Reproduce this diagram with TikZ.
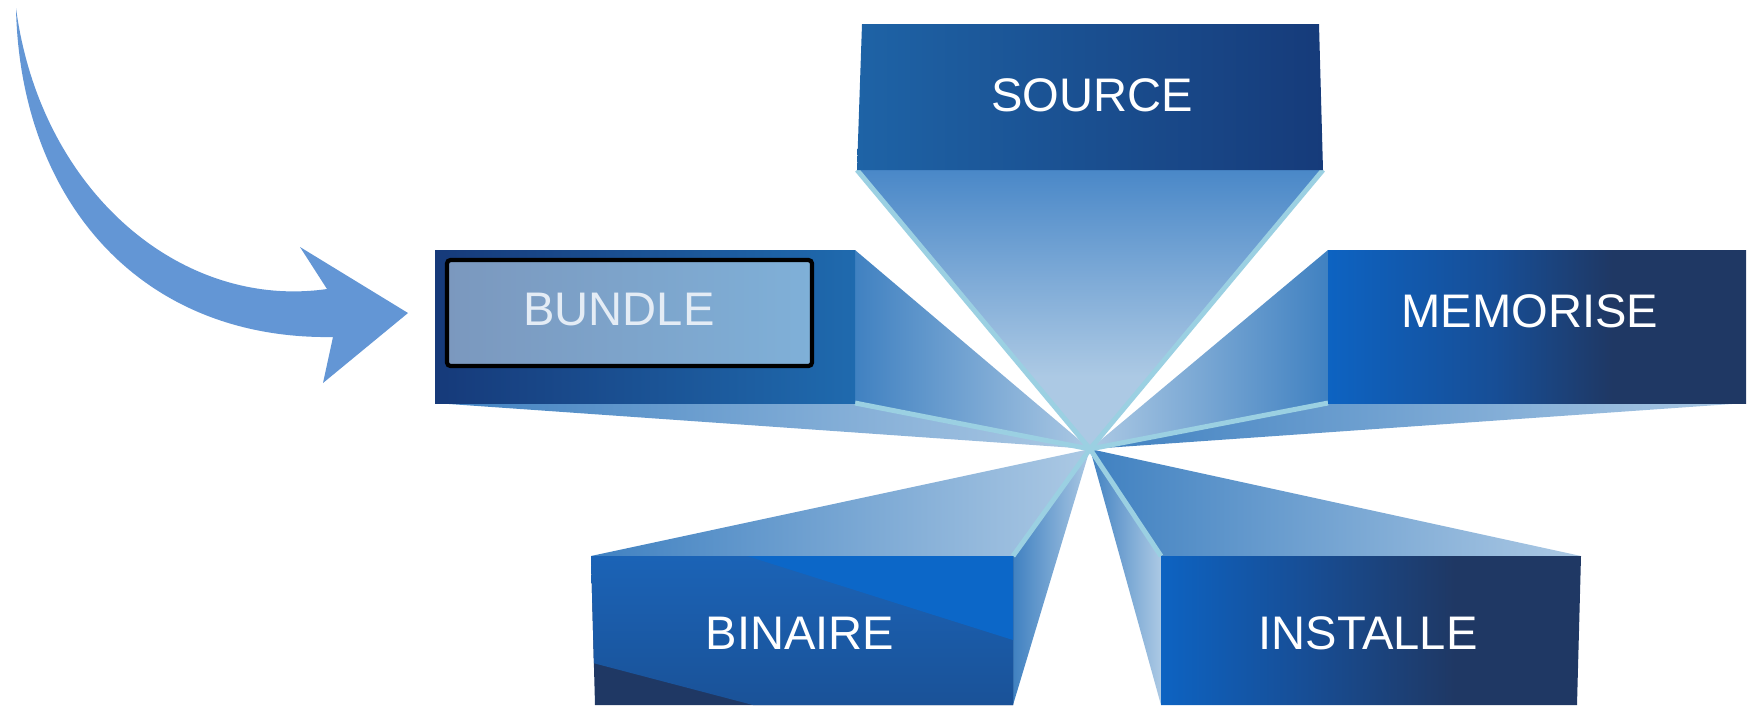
\documentclass[tikz,border=0pt]{standalone}
\usepackage{fontspec}
\setmainfont{Liberation Sans}
\usepackage{tikz}
\usetikzlibrary{shapes,arrows,positioning}

\definecolor{navy}{RGB}{31,56,100}
\definecolor{brightblue}{RGB}{13,99,194}
\definecolor{midnavy}{RGB}{23,78,150}
\definecolor{facedark}{RGB}{64,129,193}
\definecolor{facepale}{RGB}{172,201,228}
\definecolor{facetop}{RGB}{74,136,200}
\definecolor{edgeblue}{RGB}{155,208,226}
\definecolor{arrowblue}{RGB}{99,150,213}
\definecolor{srcleft}{RGB}{30,99,166}
\definecolor{srcright}{RGB}{22,59,122}
\definecolor{bndleft}{RGB}{22,58,122}
\definecolor{bndright}{RGB}{31,106,174}
\definecolor{innerleft}{RGB}{123,152,190}
\definecolor{innerright}{RGB}{127,176,216}
\definecolor{bintop}{RGB}{12,103,200}
\definecolor{binmid}{RGB}{27,99,182}
\definecolor{binlow}{RGB}{26,82,152}
\definecolor{bndtext}{RGB}{228,236,245}

\pgfdeclareverticalshading{srcfall}{100bp}{color(0bp)=(facepale); color(38bp)=(facepale); color(75bp)=(facetop); color(100bp)=(facetop)}
\pgfdeclarehorizontalshading{memfront}{100bp}{color(0bp)=(brightblue); color(25bp)=(brightblue); color(45bp)=(midnavy); color(59bp)=(navy); color(100bp)=(navy)}
\pgfdeclarehorizontalshading{insfront}{100bp}{color(0bp)=(brightblue); color(25bp)=(brightblue); color(42bp)=(midnavy); color(60bp)=(navy); color(100bp)=(navy)}

\tikzset{
	lbl/.style={text=white, inner sep=0pt, font=\fontsize{13.4pt}{16pt}\selectfont},
	hilite/.style={draw=edgeblue, line width=1.4pt},
	face/.style={left color=facedark, right color=facepale},
}

\begin{document}
\begin{tikzpicture}[x=0.01cm, y=-0.01cm]
				\useasboundingbox (0,0) rectangle (1757,705);
				\coordinate (apex) at (1090,449);
				% corners of the five blocks
				\coordinate (srcbl) at (857,170);
				\coordinate (srcbr) at (1323,170);
				\coordinate (bndtr) at (855,250);
				\coordinate (bndbr) at (855,403);
				\coordinate (bndbl) at (435,403);
				\coordinate (memtl) at (1328,250);
				\coordinate (membl) at (1328,403);
				\coordinate (membr) at (1746,403);
				\coordinate (bintl) at (591,556);
				\coordinate (bintr) at (1013,556);
				\coordinate (binbr) at (1013,705);
				\coordinate (instl) at (1161,556);
				\coordinate (instr) at (1581,556);
				\coordinate (insbl) at (1161,705);

				% faces running into the centre
				\shade [shading=srcfall] (srcbl) -- (srcbr) -- (apex) -- cycle;
				\shade [face] (bndbl) -- (bndbr) -- (apex) -- cycle;
				\shade [face] (bndtr) -- (apex) -- (bndbr) -- cycle;
				\shade [left color=facepale, right color=facedark] (memtl) -- (membl) -- (apex) -- cycle;
				\shade [face] (apex) -- (membl) -- (membr) -- cycle;
				\shade [face] (bintl) -- (bintr) -- (apex) -- cycle;
				\shade [face] (bintr) -- (apex) -- (binbr) -- cycle;
				\shade [face] (apex) -- (instr) -- (instl) -- cycle;
				\shade [face] (apex) -- (instl) -- (insbl) -- cycle;

				\draw [hilite] (srcbl) -- (apex) -- (srcbr);
				\draw [hilite] (bndbr) -- (apex) -- (membl);
				\draw [hilite] (bintr) -- (apex) -- (instl);

				% front of each block
				\shade [left color=srcleft, right color=srcright] (862,24) -- (1319,24) -- (srcbr) -- (srcbl) -- cycle;
				\shade [left color=bndleft, right color=bndright] (435,250) -- (bndtr) -- (bndbr) -- (bndbl) -- cycle;
				\shade [shading=memfront] (memtl) -- (1746,250) -- (membr) -- (membl) -- cycle;
				\shade [shading=insfront] (instl) -- (instr) -- (1577,705) -- (insbl) -- cycle;
				\begin{scope}
					\clip (bintl) -- (bintr) -- (binbr) -- (595,705) -- cycle;
					\fill [navy] (bintl) -- (bintr) -- (binbr) -- (595,705) -- cycle;
					\shade [top color=binmid, bottom color=binlow] (bintl) -- (bintr) -- (binbr) -- (753,705) -- (593,663) -- cycle;
					\fill [bintop] (747,556) -- (bintr) -- (1013,640) -- cycle;
				\end{scope}
				\draw [line width=1.2pt, rounded corners=1pt] [left color=innerleft, right color=innerright] (447,260) rectangle (812,366);

				\node [lbl] (src) at (1092,95.5) {SOURCE};
				\node [lbl, text=bndtext] (bnd) at (619,310) {BUNDLE};
				\node [lbl] (mem) at (1530,311) {MEMORISE};
				\node [lbl] (bin) at (800,633.5) {BINAIRE};
				\node [lbl] (ins) at (1368,633.5) {INSTALLE};

				% curved block arrow
				\fill [arrowblue] (16,8) .. controls (20,200) and (140,340) .. (333,337) -- (323,383) -- (408,313) -- (300,247) -- (327,289) .. controls (180,310) and (40,190) .. (16,8) -- cycle;
\end{tikzpicture}
\end{document}
